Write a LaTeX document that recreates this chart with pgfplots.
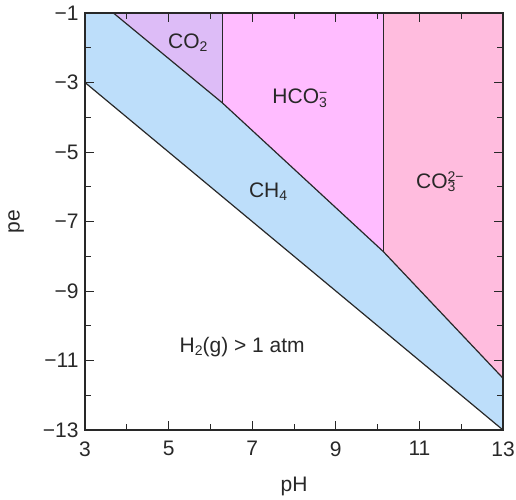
\documentclass[border=0pt]{standalone}
\usepackage{fontspec}
\setmainfont{Liberation Sans}
\usepackage{pgfplots}
\pgfplotsset{compat=1.18}

\definecolor{ch4blue}{RGB}{189,222,250}
\definecolor{co2lav}{RGB}{221,188,247}
\definecolor{hco3}{RGB}{255,188,255}
\definecolor{co3}{RGB}{255,188,222}
\definecolor{ln}{RGB}{40,40,40}

% stacked subscript / superscript in the text font
\newcommand\subsup[2]{{\fontsize{14}{14}\selectfont\rlap{\raisebox{-0.45ex}{#1}}\raisebox{0.9ex}{#2}}}
\newcommand\sub[1]{{\fontsize{14}{14}\selectfont\raisebox{-0.45ex}{#1}}}

\begin{document}
\begin{tikzpicture}
\useasboundingbox (-85pt,-69pt) rectangle (431pt,430pt);
\begin{axis}[
  at={(0,0)}, anchor=south west,
  width=418pt, height=417pt, scale only axis,
  xmin=3, xmax=13, ymin=-13, ymax=-1,
  xtick={3,5,7,9,11,13}, minor xtick={4,6,8,10,12},
  ytick={-13,-11,-9,-7,-5,-3,-1}, minor ytick={-12,-10,-8,-6,-4,-2},
  yticklabels={−13,−11,−9,−7,−5,−3,−1},
  xticklabels={3,5,7,9,11,13},
  tick align=inside,
  major tick length=9pt, minor tick length=6pt,
  every tick/.style={ln, line width=1pt},
  axis line style={ln, line width=1.2pt},
  ticklabel style={font=\fontsize{21}{24}\selectfont, text=ln},
  xticklabel style={yshift=-8pt},
  yticklabel style={xshift=-3pt},
  xlabel={pH}, ylabel={pe},
  label style={font=\fontsize{21}{24}\selectfont, text=ln},
  xlabel style={yshift=-14pt},
  ylabel style={yshift=12pt},
  axis on top,
]
% CH4 field
\addplot[fill=ch4blue, draw=none] coordinates {
  (3,-1) (3.68,-1) (6.28,-3.58) (10.14,-7.87) (13,-11.51) (13,-13) (3,-3)} -- cycle;
% CO2 field
\addplot[fill=co2lav, draw=none] coordinates {
  (3.68,-1) (6.28,-1) (6.28,-3.58)} -- cycle;
% HCO3- field
\addplot[fill=hco3, draw=none] coordinates {
  (6.28,-1) (10.14,-1) (10.14,-7.87) (6.28,-3.58)} -- cycle;
% CO3 2- field
\addplot[fill=co3, draw=none] coordinates {
  (10.14,-1) (13,-1) (13,-11.51) (10.14,-7.87)} -- cycle;

% boundaries
\addplot[ln, line width=1.2pt] coordinates {
  (3.68,-1) (6.28,-3.58) (10.14,-7.87) (13,-11.51)};
\addplot[ln, line width=1.2pt] coordinates {(3,-3) (13,-13)};
\addplot[ln, line width=1.2pt] coordinates {(6.28,-1) (6.28,-3.58)};
\addplot[ln, line width=1.2pt] coordinates {(10.14,-1) (10.14,-7.87)};

\begin{scope}[every node/.style={font=\fontsize{21}{24}\selectfont, text=ln}]
\node at (axis cs:5.46,-1.85) {CO\sub{2}};
\node at (axis cs:8.14,-3.45) {HCO\subsup{3}{−}};
\node at (axis cs:11.49,-5.86) {CO\subsup{3}{2−}};
\node at (axis cs:7.38,-6.15) {CH\sub{4}};
\node at (axis cs:6.76,-10.6) {H\sub{2}(g) > 1 atm};
\end{scope}
\end{axis}
\end{tikzpicture}
\end{document}
